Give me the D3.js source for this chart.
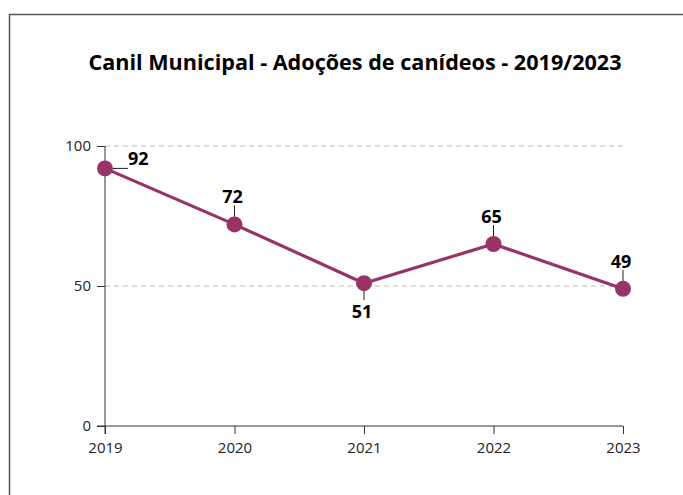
<!DOCTYPE html>
<html>
<head>
<meta charset="utf-8">
<script src="https://cdn.jsdelivr.net/npm/d3@7"></script>
<style>
  body { margin: 0; background: #fff; }
  svg { display: block; }
  text { font-family: "Open Sans", "Noto Sans", sans-serif; }
</style>
</head>
<body>
<div id="chart"></div>
<script>
// data
var years = ["2019", "2020", "2021", "2022", "2023"];
var adoptions = [92, 72, 51, 65, 49];
var yTicks = [0, 50, 100];
// which side of the point each value label sits on
var labelSide = ["right", "up", "down", "up", "up"];

var W = 683, H = 495;
var margin = {top: 146, right: 60, bottom: 69, left: 105};
var width = W - margin.left - margin.right;
var height = H - margin.top - margin.bottom;

var svg = d3.select("#chart").append("svg")
    .attr("width", W)
    .attr("height", H);

// outer frame
svg.append("rect")
    .attr("x", 9.5).attr("y", 14.5)
    .attr("width", W).attr("height", H)
    .attr("fill", "none")
    .attr("stroke", "#555")
    .attr("stroke-width", 1.5);

// title
svg.append("text")
    .attr("x", 355)
    .attr("y", 70)
    .attr("text-anchor", "middle")
    .attr("font-size", 21.6)
    .attr("font-weight", "bold")
    .attr("fill", "#000")
    .text("Canil Municipal - Adoções de canídeos - 2019/2023");

var g = svg.append("g")
    .attr("transform", "translate(" + margin.left + "," + margin.top + ")");

var x = d3.scalePoint().domain(years).range([0, width]);
var y = d3.scaleLinear().domain([0, 100]).range([height, 0]);

// gridlines
g.selectAll(".grid")
    .data(yTicks.filter(function(d) { return d > 0; }))
    .enter().append("line")
    .attr("x1", 0).attr("x2", width)
    .attr("y1", function(d) { return y(d); })
    .attr("y2", function(d) { return y(d); })
    .attr("stroke", "#bbb")
    .attr("stroke-dasharray", "5,4");

// axes
var yAxis = g.append("g")
    .call(d3.axisLeft(y).tickValues(yTicks).tickSize(8).tickPadding(6));
var xAxis = g.append("g")
    .attr("transform", "translate(0," + height + ")")
    .call(d3.axisBottom(x).tickSize(8).tickPadding(8));

[xAxis, yAxis].forEach(function(a) {
    a.attr("font-size", 15).attr("font-family", "'Open Sans', sans-serif");
    a.select(".domain").attr("stroke", "#333");
    a.selectAll(".tick line").attr("stroke", "#333");
    a.selectAll(".tick text").attr("fill", "#222");
});
// y axis extends down to x tick length, x axis starts at y tick
yAxis.select(".domain").attr("d", "M0,0V" + (height + 8));
xAxis.select(".domain").attr("d", "M-8,0H" + width);

var pts = years.map(function(yr, i) { return {year: yr, v: adoptions[i], side: labelSide[i]}; });

// line
g.append("path")
    .datum(pts)
    .attr("fill", "none")
    .attr("stroke", "#993366")
    .attr("stroke-width", 3.2)
    .attr("d", d3.line()
        .x(function(d) { return x(d.year); })
        .y(function(d) { return y(d.v); }));

// leader lines
g.selectAll(".leader")
    .data(pts)
    .enter().append("path")
    .attr("fill", "none")
    .attr("stroke", "#222")
    .attr("stroke-width", 1)
    .attr("d", function(d) {
        var px = x(d.year), py = y(d.v);
        if (d.side === "right") return "M" + px + "," + py + "H" + (px + 23);
        if (d.side === "down") return "M" + px + "," + py + "V" + (py + 17);
        return "M" + px + "," + py + "V" + (py - 19);
    });

// markers
g.selectAll(".dot")
    .data(pts)
    .enter().append("circle")
    .attr("cx", function(d) { return x(d.year); })
    .attr("cy", function(d) { return y(d.v); })
    .attr("r", 8)
    .attr("fill", "#993366");

// value labels
g.selectAll(".lbl")
    .data(pts)
    .enter().append("text")
    .attr("x", function(d) {
        var px = x(d.year);
        if (d.side === "right") return px + 23;
        return px - 2;
    })
    .attr("y", function(d) {
        var py = y(d.v);
        if (d.side === "right") return py - 3;
        if (d.side === "down") return py + 35;
        return py - 21;
    })
    .attr("text-anchor", function(d) { return d.side === "right" ? "start" : "middle"; })
    .attr("font-size", 18)
    .attr("font-weight", "bold")
    .attr("fill", "#000")
    .text(function(d) { return d.v; });
</script>
</body>
</html>
